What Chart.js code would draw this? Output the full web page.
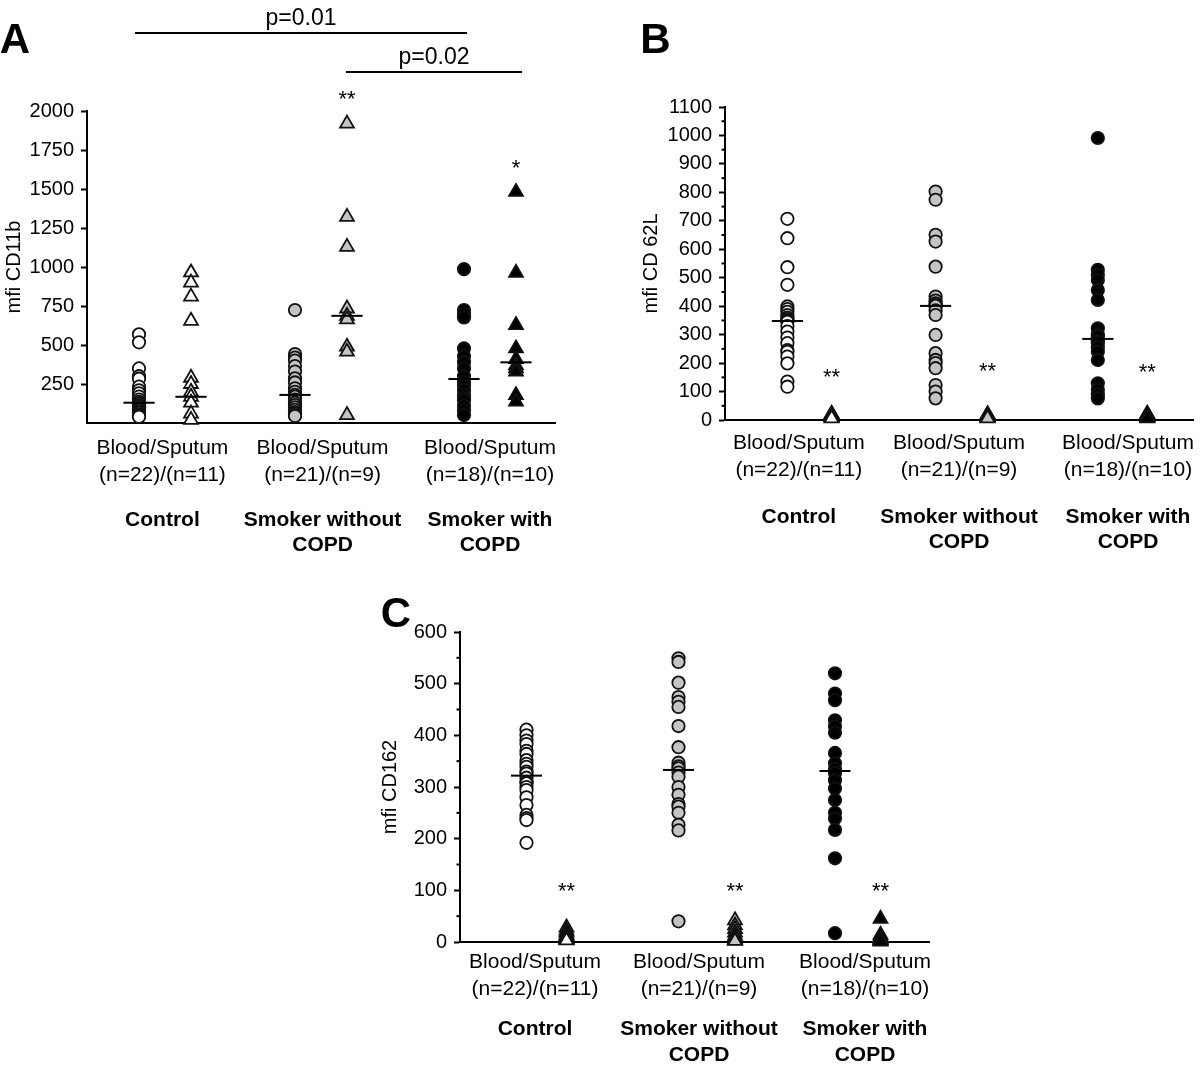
<!DOCTYPE html>
<html>
<head>
<meta charset="utf-8">
<title>mfi CD11b / CD62L / CD162</title>
<script src="https://cdn.jsdelivr.net/npm/chart.js@4.4.1/dist/chart.umd.min.js"></script>
<style>
  html, body { margin: 0; padding: 0; background: #fff; }
  body { position: relative; width: 1200px; height: 1070px; overflow: hidden; }
  .panel { position: absolute; }
</style>
</head>
<body>
<div class="panel" style="left:0px;top:0px;width:600px;height:570px"><canvas id="chartA"></canvas></div>
<div class="panel" style="left:600px;top:0px;width:620px;height:570px"><canvas id="chartB"></canvas></div>
<div class="panel" style="left:300px;top:570px;width:700px;height:500px"><canvas id="chartC"></canvas></div>
<script>
// ---- data ----
const seriesNames = ["Control blood", "Control sputum", "Smoker blood", "Smoker sputum", "COPD blood", "COPD sputum"];
const sampleLabels = [["Blood/Sputum", "(n=22)/(n=11)"], ["Blood/Sputum", "(n=21)/(n=9)"], ["Blood/Sputum", "(n=18)/(n=10)"]];
const groupLabels = [["Control"], ["Smoker without", "COPD"], ["Smoker with", "COPD"]];

// A: mfi CD11b
const cd11bControlBlood = [568, 517, 350, 300, 284, 233, 210, 190, 170, 150, 135, 125, 115, 105, 95, 85, 75, 66, 55, 48, 42, 40];
const cd11bControlSputum = [965, 900, 810, 655, 290, 250, 200, 168, 130, 60, 20];
const cd11bSmokerBlood = [724, 442, 420, 400, 365, 330, 286, 260, 222, 200, 180, 169, 150, 130, 115, 100, 85, 70, 60, 51, 45];
const cd11bSmokerSputum = [1919, 1321, 1129, 734, 687, 664, 489, 457, 51];
const cd11bCopdBlood = [986, 724, 700, 677, 478, 430, 390, 350, 300, 264, 240, 211, 180, 160, 147, 110, 83, 51];
const cd11bCopdSputum = [1481, 963, 628, 478, 410, 370, 350, 329, 179, 137];
const cd11bMedians = [130, 168, 180, 687, 282, 389];

// B: mfi CD 62L
const cd62lControlBlood = [707, 639, 537, 475, 399, 390, 380, 369, 360, 355, 350, 345, 330, 311, 290, 270, 246, 240, 223, 199, 135, 117];
const cd62lControlSputum = [22, 20, 18, 16, 15, 14, 12, 10, 9, 8, 6];
const cd62lSmokerBlood = [803, 774, 651, 627, 539, 434, 420, 410, 404, 402, 401, 385, 369, 299, 235, 211, 200, 182, 123, 100, 76];
const cd62lSmokerSputum = [20, 18, 16, 14, 12, 10, 9, 8, 6];
const cd62lCopdBlood = [991, 528, 510, 492, 457, 422, 322, 300, 293, 277, 270, 255, 240, 211, 129, 106, 90, 76];
const cd62lCopdSputum = [22, 20, 18, 16, 14, 12, 10, 9, 8, 6];
const cd62lMedians = [348, null, 401, null, 285, null];

// C: mfi CD162
const cd162ControlBlood = [411, 400, 390, 383, 370, 364, 352, 345, 339, 330, 326, 318, 310, 307, 300, 294, 280, 265, 246, 240, 236, 192];
const cd162ControlSputum = [28, 22, 18, 14, 12, 10, 8, 6, 5, 4, 3];
const cd162SmokerBlood = [549, 542, 502, 474, 465, 455, 418, 377, 347, 340, 336, 328, 320, 300, 285, 267, 262, 250, 227, 216, 40];
const cd162SmokerSputum = [42, 32, 25, 18, 12, 8, 5, 3, 2];
const cd162CopdBlood = [520, 481, 468, 429, 417, 405, 366, 346, 335, 327, 313, 297, 275, 250, 239, 217, 162, 17];
const cd162CopdSputum = [45, 14, 10, 8, 6, 5, 4, 3, 2, 1];
const cd162Medians = [322, null, 333, null, 331, null];

// significance marks
const cd11bBrackets = [{ from: 0, to: 4, value: 2500, label: "p=0.01", ext: [-4, 3] }, { from: 3, to: 5, value: 2250, label: "p=0.02", ext: [-1, 6] }];
const cd11bStars = [{ slot: 3, value: 2115, text: "**" }, { slot: 5, value: 1673, text: "*" }];
const cd62lStars = [{ slot: 1, value: 170, text: "**" }, { slot: 3, value: 190, text: "**" }, { slot: 5, value: 188, text: "**" }];
const cd162Stars = [{ slot: 1, value: 110, text: "**" }, { slot: 3, value: 110, text: "**" }, { slot: 5, value: 110, text: "**" }];

// ---- look ----
const markerShape = ["circle", "triangle", "circle", "triangle", "circle", "triangle"];
const markerFill = ["#ffffff", "#ffffff", "#c4c4c4", "#c4c4c4", "#000000", "#000000"];
const FONT = "'Liberation Sans', Arial, Helvetica, sans-serif";

Chart.defaults.font.family = FONT;
Chart.defaults.color = "#000";

const figureMarks = {
  id: "figureMarks",
  afterDraw(chart, args, o) {
    const ctx = chart.ctx;
    const xs = chart.scales.x, ys = chart.scales.y;
    const area = chart.chartArea;
    ctx.save();
    ctx.fillStyle = "#000";
    ctx.strokeStyle = "#000";
    // short minor ticks
    if (o.minorEvery) {
      ctx.lineWidth = 2;
      ys.ticks.forEach(t => {
        if (t.value % o.minorEvery === 0) return;
        const y = ys.getPixelForValue(t.value);
        ctx.beginPath();
        ctx.moveTo(area.left - 3.5, y);
        ctx.lineTo(area.left, y);
        ctx.stroke();
      });
    }
    // panel letter
    ctx.font = "bold 42px " + FONT;
    ctx.textAlign = "center";
    ctx.textBaseline = "alphabetic";
    ctx.fillText(o.letter[0], o.letter[1], o.letter[2]);
    // p-value brackets
    ctx.font = "23px " + FONT;
    ctx.lineWidth = 2;
    (o.brackets || []).forEach(b => {
      const x1 = xs.getPixelForValue(o.slots[b.from]) + b.ext[0];
      const x2 = xs.getPixelForValue(o.slots[b.to]) + b.ext[1];
      const y = ys.getPixelForValue(b.value);
      ctx.beginPath();
      ctx.moveTo(x1, y);
      ctx.lineTo(x2, y);
      ctx.stroke();
      ctx.fillText(b.label, (x1 + x2) / 2, y - 8);
    });
    // asterisks
    ctx.font = "22px " + FONT;
    (o.stars || []).forEach(s => {
      ctx.fillText(s.text, xs.getPixelForValue(o.slots[s.slot]), ys.getPixelForValue(s.value) + 12.5);
    });
    ctx.restore();
  }
};

function buildChart(id, p) {
  const datasets = [];
  p.medians.forEach((m, i) => {
    if (m === null) return;
    datasets.push({
      label: seriesNames[i] + " median",
      data: [{ x: p.slots[i] - p.medianHalf, y: m }, { x: p.slots[i] + p.medianHalf, y: m }],
      showLine: true,
      borderColor: "#000",
      borderWidth: 2,
      pointRadius: 0,
      clip: false,
      order: 1
    });
  });
  p.series.forEach((values, i) => {
    datasets.push({
      label: seriesNames[i],
      data: values.map(v => ({ x: p.slots[i], y: v })),
      showLine: false,
      pointStyle: markerShape[i],
      pointRadius: markerShape[i] === "triangle" ? 8 : 6.2,
      pointBackgroundColor: markerFill[i],
      pointBorderColor: "#111",
      pointBorderWidth: 1.8,
      clip: false,
      order: 2
    });
  });

  new Chart(document.getElementById(id), {
    type: "scatter",
    data: { datasets: datasets },
    options: {
      responsive: true,
      maintainAspectRatio: false,
      animation: false,
      events: [],
      layout: { padding: { left: 0, top: p.top, right: p.right, bottom: 0 } },
      plugins: {
        legend: { display: false },
        tooltip: { enabled: false },
        figureMarks: { letter: p.letter, slots: p.slots, brackets: p.brackets, stars: p.stars, minorEvery: p.minorEvery }
      },
      scales: {
        x: {
          type: "linear",
          min: 0,
          max: p.xMax,
          weight: 0,
          afterBuildTicks: s => { s.ticks = p.labelSlots.map(v => ({ value: v })); },
          afterFit: s => { s.height = p.xHeight; },
          ticks: {
            autoSkip: false, maxRotation: 0, minRotation: 0,
            font: { size: 21, lineHeight: 1.28 },
            padding: p.xPad,
            callback: (v, i) => sampleLabels[i]
          },
          grid: { display: false, drawTicks: false },
          border: { display: true, color: "#000", width: 2 }
        },
        x2: {
          type: "linear",
          axis: "x",
          position: "bottom",
          min: 0,
          max: p.xMax,
          weight: 1,
          afterBuildTicks: s => { s.ticks = p.labelSlots.map(v => ({ value: v })); },
          afterFit: s => { s.height = p.x2Height; },
          ticks: {
            autoSkip: false, maxRotation: 0, minRotation: 0,
            font: { size: 21, weight: "bold", lineHeight: 1.2 },
            padding: p.x2Pad,
            callback: (v, i) => groupLabels[i]
          },
          grid: { display: false, drawTicks: false },
          border: { display: false }
        },
        y: {
          min: 0,
          max: p.yMax,
          afterFit: s => { s.width = p.yWidth; },
          ticks: {
            stepSize: p.yStep,
            autoSkip: false,
            font: { size: 20 },
            padding: 7,
            callback: v => (v % p.labelEvery === 0 && (v > 0 || p.zeroLabel)) ? v : ""
          },
          grid: {
            drawOnChartArea: false,
            tickLength: 6,
            tickWidth: 2,
            tickColor: c => (c.tick && c.tick.value % p.labelEvery === 0 && (c.tick.value > 0 || p.zeroLabel)) ? "#000" : "rgba(0,0,0,0)"
          },
          border: { color: "#000", width: 2 },
          title: { display: true, text: p.yTitle, font: { size: 20 }, padding: { top: p.titlePad, bottom: 0 } }
        }
      }
    },
    plugins: [figureMarks]
  });
}

buildChart("chartA", {
  series: [cd11bControlBlood, cd11bControlSputum, cd11bSmokerBlood, cd11bSmokerSputum, cd11bCopdBlood, cd11bCopdSputum],
  medians: cd11bMedians,
  slots: [1, 2, 4, 5, 7.25, 8.25], labelSlots: [1.45, 4.53, 7.75], xMax: 9, medianHalf: 0.3,
  yMax: 2000, yStep: 250, labelEvery: 250, zeroLabel: false, minorEvery: 0,
  yTitle: "mfi CD11b", titlePad: 2,
  top: 111, right: 45, yWidth: 87, xHeight: 80, x2Height: 67, xPad: 11.5, x2Pad: 4.5,
  letter: ["A", 15, 53], brackets: cd11bBrackets, stars: cd11bStars
});

buildChart("chartB", {
  series: [cd62lControlBlood, cd62lControlSputum, cd62lSmokerBlood, cd62lSmokerSputum, cd62lCopdBlood, cd62lCopdSputum],
  medians: cd62lMedians,
  slots: [1.2, 2.05, 4.05, 5.05, 7.17, 8.12], labelSlots: [1.42, 4.5, 7.75], xMax: 9, medianHalf: 0.3,
  yMax: 1100, yStep: 50, labelEvery: 100, zeroLabel: true, minorEvery: 100,
  yTitle: "mfi CD 62L", titlePad: 39,
  top: 107, right: 27, yWidth: 125, xHeight: 80, x2Height: 70, xPad: 9.5, x2Pad: 4.5,
  letter: ["B", 55.5, 53], brackets: [], stars: cd62lStars
});

buildChart("chartC", {
  series: [cd162ControlBlood, cd162ControlSputum, cd162SmokerBlood, cd162SmokerSputum, cd162CopdBlood, cd162CopdSputum],
  medians: cd162Medians,
  slots: [1.33, 2.13, 4.37, 5.5, 7.5, 8.41], labelSlots: [1.5, 4.78, 8.1], xMax: 9.38, medianHalf: 0.31,
  yMax: 600, yStep: 50, labelEvery: 100, zeroLabel: true, minorEvery: 100,
  yTitle: "mfi CD162", titlePad: 78,
  top: 62, right: 71, yWidth: 160, xHeight: 70, x2Height: 58, xPad: 7, x2Pad: 5,
  letter: ["C", 96, 57], brackets: [], stars: cd162Stars
});
</script>
</body>
</html>
